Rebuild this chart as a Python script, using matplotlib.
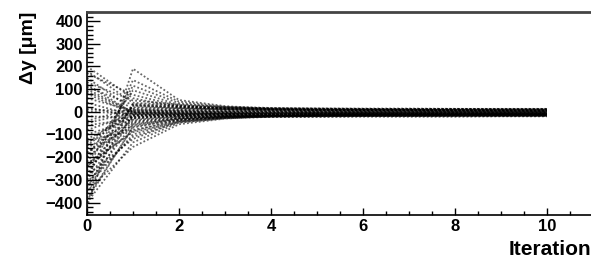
import numpy as np
import matplotlib
matplotlib.use("Agg")
import matplotlib.pyplot as plt
from matplotlib.ticker import MultipleLocator

plt.rcParams['font.family'] = ['Liberation Sans', 'DejaVu Sans']
plt.rcParams['font.weight'] = 'bold'

iterations = [0, 1, 2, 3, 4, 5, 6, 7, 8, 9, 10]

# delta y [um] per track, one value per iteration
tracks = [
    [-420, 190, 52, 25, 14, 10, 8, 7, 6, 6, 5],
    [-300, 140, 45, 22, 12, 9, 8, 7, 6, 5, 5],
    [-250, 115, 38, 18, 12, 10, 9, 8, 8, 7, 7],
    [-200, 95, 30, 15, 10, 8, 6, 6, 5, 5, 4],
    [170, 75, 25, 12, 8, 6, 5, 5, 4, 4, 4],
    [200, 60, 20, 14, 12, 11, 10, 10, 10, 10, 10],
    [-350, -155, -55, -30, -20, -15, -12, -12, -11, -11, -10],
    [-400, -135, -48, -28, -18, -15, -14, -13, -12, -12, -12],
    [-280, -120, -42, -25, -20, -18, -16, -15, -15, -14, -14],
    [-330, -100, -40, -22, -16, -14, -13, -12, -12, -12, -12],
    [-240, -85, -35, -20, -15, -13, -12, -11, -11, -10, -10],
    [-380, -70, -30, -20, -18, -17, -16, -16, -15, -15, -15],
    [-180, -60, -28, -18, -14, -12, -11, -10, -10, -10, -10],
    [150, 10, 5, 2, 0, -2, -3, -3, -4, -4, -4],
    [120, -5, -8, -8, -7, -7, -6, -6, -6, -6, -6],
    [100, 0, 2, 3, 3, 2, 2, 2, 2, 2, 2],
    [80, -10, -10, -9, -8, -8, -8, -7, -7, -7, -7],
    [60, 5, 8, 8, 6, 5, 4, 4, 3, 3, 3],
    [40, -15, -12, -10, -10, -9, -9, -9, -8, -8, -8],
    [20, -20, -15, -12, -12, -11, -11, -10, -10, -10, -10],
    [0, -8, -5, -4, -4, -3, -3, -3, -3, -3, -3],
    [-20, -25, -18, -15, -14, -13, -13, -12, -12, -12, -12],
    [-40, 15, 12, 10, 9, 8, 8, 8, 7, 7, 7],
    [-60, -30, -20, -16, -15, -14, -13, -13, -13, -13, -13],
    [-80, -12, -10, -8, -8, -7, -7, -7, -7, -7, -7],
    [-100, -35, -22, -18, -16, -15, -15, -14, -14, -14, -14],
    [-120, -18, -14, -12, -11, -10, -10, -10, -9, -9, -9],
    [-140, 20, 15, 12, 10, 9, 9, 9, 8, 8, 8],
    [-160, -40, -25, -20, -18, -17, -16, -16, -16, -16, -16],
    [-180, -22, -16, -14, -12, -11, -11, -11, -10, -10, -10],
    [-200, -45, -26, -20, -18, -18, -17, -17, -17, -16, -16],
    [-220, 25, 18, 14, 12, 11, 11, 10, 10, 10, 10],
    [-240, -28, -19, -16, -15, -15, -14, -14, -14, -14, -14],
    [-260, -50, -30, -24, -21, -20, -19, -19, -18, -18, -18],
    [-280, 30, 22, 16, 14, 13, 12, 12, 12, 11, 11],
    [-300, -14, -12, -10, -9, -9, -8, -8, -8, -8, -8],
    [-320, -55, -32, -25, -22, -21, -20, -20, -20, -19, -19],
    [-340, 35, 24, 18, 15, 14, 13, 13, 13, 12, 12],
    [-360, -6, -6, -5, -5, -5, -5, -5, -4, -4, -4],
    [-390, -65, -35, -26, -23, -22, -21, -21, -21, -20, -20],
    [180, 40, 28, 20, 16, 14, 13, 12, 12, 12, 12],
    [130, 50, 32, 22, 17, 15, 14, 14, 13, 13, 13],
    [90, -2, 0, 1, 1, 0, 0, 0, 0, 0, 0],
    [110, 30, 16, 10, 6, 4, 3, 3, 2, 2, 2],
    [-130, -80, -38, -24, -19, -17, -16, -15, -15, -15, -15],
    [-230, -90, -44, -27, -20, -18, -17, -17, -16, -16, -16],
    [-310, -110, -46, -29, -22, -20, -19, -18, -18, -18, -17],
    [10, 2, -2, -3, -3, -3, -3, -3, -3, -3, -3],
    [-50, -3, -4, -6, -6, -6, -6, -6, -6, -6, -6],
    [-150, 8, 4, 0, -1, -2, -2, -2, -2, -2, -2],
]

fig = plt.figure(figsize=(5.91, 2.61), dpi=100)
ax = fig.add_axes([87/591, 1 - 215/261, 1 - 87/591, (215 - 12)/261])

for t in tracks:
    ax.plot(iterations, t, color='black', lw=1.3, alpha=0.6,
            linestyle=(0, (1, 1.2)))

ax.set_xlim(0, 10.96)
ax.set_ylim(-455, 440)

ax.xaxis.set_major_locator(MultipleLocator(2))
ax.xaxis.set_minor_locator(MultipleLocator(0.5))
ax.yaxis.set_major_locator(MultipleLocator(100))
ax.yaxis.set_minor_locator(MultipleLocator(20))

ax.tick_params(axis='x', which='major', direction='in', length=5, width=1, labelsize=12, pad=3)
ax.tick_params(axis='x', which='minor', direction='in', length=3, width=1)
ax.tick_params(axis='y', which='major', direction='in', length=9, width=1, labelsize=12, pad=3)
ax.tick_params(axis='y', which='minor', direction='in', length=4.5, width=1)
ax.set_yticks(range(-400, 401, 100))

ax.spines['right'].set_visible(False)
ax.spines['top'].set_color('#444444')
ax.spines['top'].set_linewidth(2)
ax.spines['left'].set_linewidth(1.2)
ax.spines['bottom'].set_linewidth(1.2)

ax.set_ylabel('Δy [μm]', fontsize=14, fontweight='bold', loc='top', labelpad=6)
ax.set_xlabel('Iteration', fontsize=15, fontweight='bold', loc='right', labelpad=4)

fig.savefig('out.png', dpi=100)
